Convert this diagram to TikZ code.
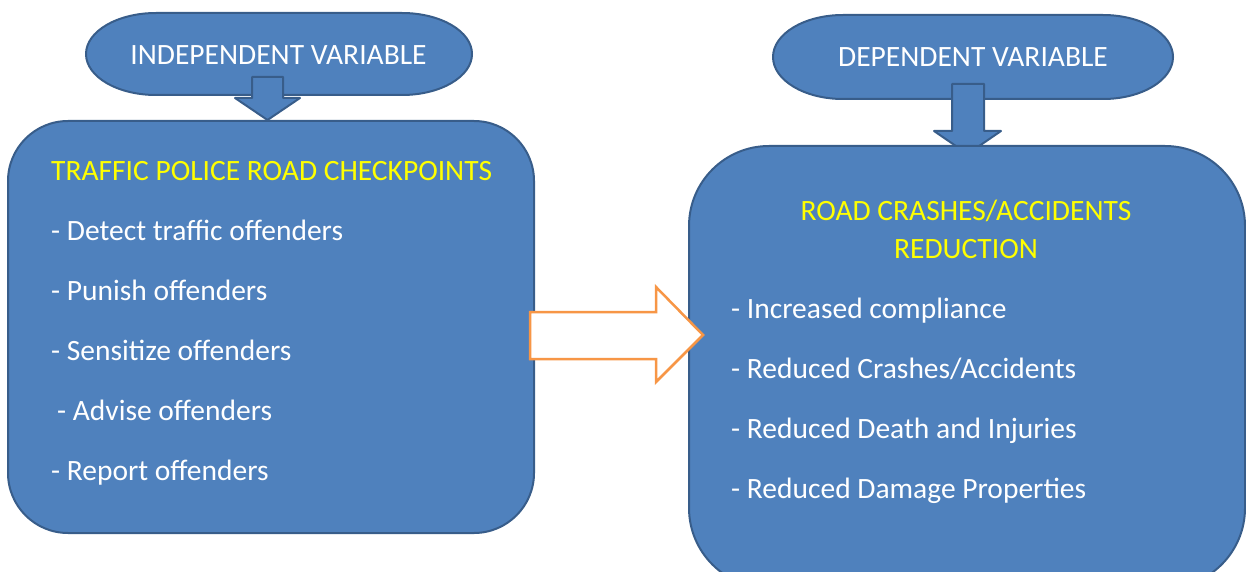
\documentclass[tikz,border=0pt]{standalone}
\usepackage{fontspec}
\setmainfont{Carlito}
\definecolor{boxblue}{HTML}{4F81BD}
\definecolor{edgeblue}{HTML}{385D8A}
\definecolor{arroworange}{HTML}{F79646}
\definecolor{titleyellow}{HTML}{FFFF00}
\newcommand{\diagfont}{\fontsize{29.5}{35}\selectfont}
\begin{document}
\begin{tikzpicture}[x=1pt,y=1pt,
  shapefill/.style={fill=boxblue,draw=edgeblue,line width=2pt,line join=round},
  pilltext/.style={text=white,font=\diagfont,inner sep=0pt,anchor=base},
  titletext/.style={text=titleyellow,font=\diagfont,inner sep=0pt,anchor=base},
  itemtext/.style={text=white,font=\diagfont,inner sep=0pt,anchor=base west},
  blockarrow/.style={draw=arroworange,fill=white,line width=2.5pt,line join=miter}]
\useasboundingbox (0,0) rectangle (1246,-572);
\clip (0,0) rectangle (1246,-572);

% pills
\path[shapefill] (156,-13) -- (402,-13) arc[start angle=90,end angle=-90,x radius=70,y radius=41]
  -- (156,-95) arc[start angle=270,end angle=90,x radius=70,y radius=41] -- cycle;
\path[shapefill] (843,-15) -- (1103,-15) arc[start angle=90,end angle=-90,x radius=70,y radius=42]
  -- (843,-99) arc[start angle=270,end angle=90,x radius=70,y radius=42] -- cycle;
\node[pilltext] (indlabel) at (278.5,-65) {INDEPENDENT VARIABLE};
\node[pilltext] (deplabel) at (973,-67) {DEPENDENT VARIABLE};

% down arrows
\path[shapefill] (252,-77) -- (283,-77) -- (283,-98) -- (300,-98) -- (267.5,-120) -- (235,-98) -- (252,-98) -- cycle;
\path[shapefill] (952,-84) -- (984,-84) -- (984,-131) -- (1001,-131) -- (967.5,-154) -- (934,-131) -- (952,-131) -- cycle;

% boxes
\node[shapefill,rounded corners=60pt,minimum width=526pt,minimum height=412pt,anchor=north west,inner sep=0pt] (indbox) at (7,-120) {};
\node[shapefill,rounded corners=80pt,minimum width=556pt,minimum height=442pt,anchor=north west,inner sep=0pt] (depbox) at (688,-145) {};

% right block arrow
\path[blockarrow] (530,-312) -- (656,-312) -- (656,-287) -- (703,-335) -- (656,-382) -- (656,-359) -- (530,-359) -- cycle;

% left box text
\node[titletext,anchor=base west] (indtitle) at (51,-180) {TRAFFIC POLICE ROAD CHECKPOINTS};
\node[itemtext] (ind1) at (51,-240) {- Detect traffic offenders};
\node[itemtext] (ind2) at (51,-300) {- Punish offenders};
\node[itemtext] (ind3) at (51,-360) {- Sensitize offenders};
\node[itemtext] (ind4) at (57,-420) {- Advise offenders};
\node[itemtext] (ind5) at (51,-480) {- Report offenders};

% right box text
\node[titletext] (deptitlea) at (966,-220) {ROAD CRASHES/ACCIDENTS};
\node[titletext] (deptitleb) at (966,-258) {REDUCTION};
\node[itemtext] (dep1) at (731,-318) {- Increased compliance};
\node[itemtext] (dep2) at (731,-378) {- Reduced Crashes/Accidents};
\node[itemtext] (dep3) at (731,-438) {- Reduced Death and Injuries};
\node[itemtext] (dep4) at (731,-498) {- Reduced Damage Properties};
\end{tikzpicture}
\end{document}
